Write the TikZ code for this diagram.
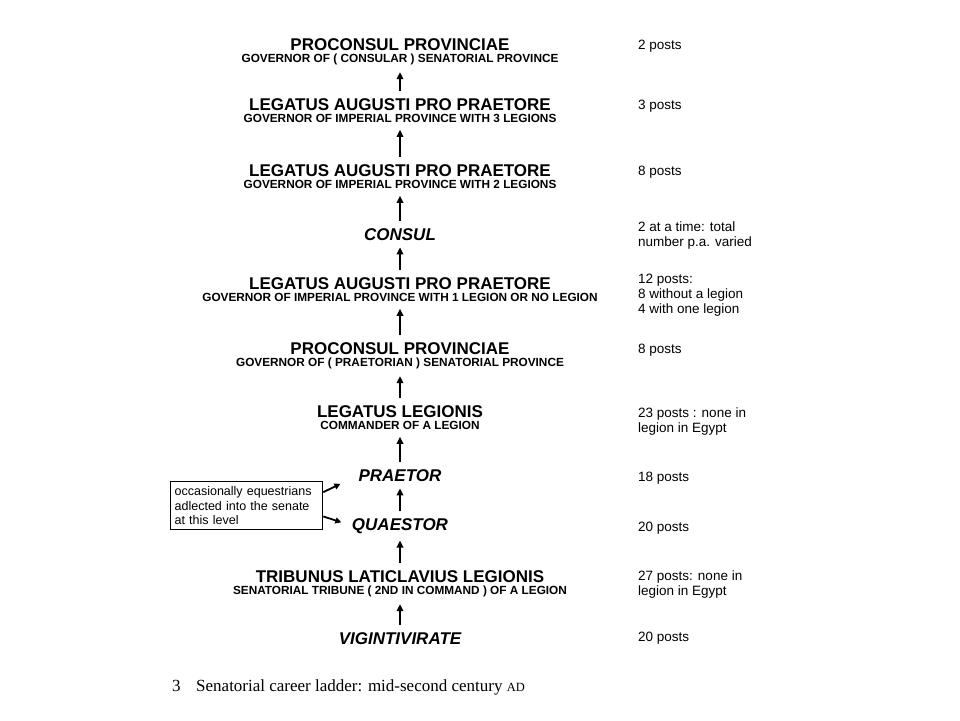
\documentclass[tikz,border=0pt]{standalone}
\usepackage{fontspec}
\setmainfont{Liberation Sans}
\newfontfamily\capfont{Liberation Serif}
\usetikzlibrary{arrows.meta}

\begin{document}
\begin{tikzpicture}[x=1pt, y=-1pt,
  ttl/.style={anchor=base, inner sep=0pt, font=\fontsize{17}{20}\selectfont\bfseries},
  itl/.style={ttl, font=\fontsize{17}{20}\selectfont\bfseries\itshape},
  sub/.style={anchor=base, inner sep=0pt, font=\fontsize{11.8}{13}\selectfont\bfseries},
  cnt/.style={anchor=north west, inner sep=0pt, align=left,
              font=\fontsize{13.5}{15}\selectfont},
  up/.style={-{Triangle[length=7pt, width=6.5pt]}, line width=2.2pt,
             shorten <=7pt, shorten >=7pt},
  side/.style={-{Triangle[length=6pt, width=6pt]}, line width=1.8pt}]
\fill[white] (0,0) rectangle (960,720);
\useasboundingbox (0,0) rectangle (960,720);

% 阶梯:从上到下各级职位
\node[ttl] (provc)   at (400,50)    {PROCONSUL PROVINCIAE};
\node[sub] (provc-s) at (400,62.5)  {GOVERNOR OF ( CONSULAR ) SENATORIAL PROVINCE};
\node[ttl] (lap3)    at (400,110)   {LEGATUS AUGUSTI PRO PRAETORE};
\node[sub] (lap3-s)  at (400,122.5) {GOVERNOR OF IMPERIAL PROVINCE WITH 3 LEGIONS};
\node[ttl] (lap2)    at (400,176)   {LEGATUS AUGUSTI PRO PRAETORE};
\node[sub] (lap2-s)  at (400,188.5) {GOVERNOR OF IMPERIAL PROVINCE WITH 2 LEGIONS};
\node[itl] (cos)     at (400,240)   {CONSUL};
\node[ttl] (lap1)    at (400,289)   {LEGATUS AUGUSTI PRO PRAETORE};
\node[sub] (lap1-s)  at (400,301.5) {GOVERNOR OF IMPERIAL PROVINCE WITH 1 LEGION OR NO LEGION};
\node[ttl] (provp)   at (400,354)   {PROCONSUL PROVINCIAE};
\node[sub] (provp-s) at (400,366.5) {GOVERNOR OF ( PRAETORIAN ) SENATORIAL PROVINCE};
\node[ttl] (leg)     at (400,417)   {LEGATUS LEGIONIS};
\node[sub] (leg-s)   at (400,429.5) {COMMANDER OF A LEGION};
\node[itl] (pr)      at (400,481)   {PRAETOR};
\node[itl] (q)       at (400,530)   {QUAESTOR};
\node[ttl] (trib)    at (400,582)   {TRIBUNUS LATICLAVIUS LEGIONIS};
\node[sub] (trib-s)  at (400,594.5) {SENATORIAL TRIBUNE ( 2ND IN COMMAND ) OF A LEGION};
\node[itl] (vig)     at (400,644)   {VIGINTIVIRATE};

\foreach \a/\b in {lap3/provc-s, lap2/lap3-s, cos/lap2-s, lap1/cos, provp/lap1-s,
                   leg/provp-s, pr/leg-s, q/pr, trib/q, vig/trib-s}{
  \draw[up] (\a.north) -- (\b.south);}

% 右列:职位数量
\node[cnt] (n-provc) at (638,40)  {2 posts};
\node[cnt] (n-lap3)  at (638,100) {3 posts};
\node[cnt] (n-lap2)  at (638,166) {8 posts};
\node[cnt] (n-cos)   at (638,222) {2 at a time: total\\number p.a. varied};
\node[cnt] (n-lap1)  at (638,274) {12 posts:\\8 without a legion\\4 with one legion};
\node[cnt] (n-provp) at (638,344) {8 posts};
\node[cnt] (n-leg)   at (638,408) {23 posts : none in\\legion in Egypt};
\node[cnt] (n-pr)    at (638,472) {18 posts};
\node[cnt] (n-q)     at (638,522) {20 posts};
\node[cnt] (n-trib)  at (638,571) {27 posts: none in\\legion in Egypt};
\node[cnt] (n-vig)   at (638,632) {20 posts};

% 左侧注释框
\node[draw, line width=1.3pt, anchor=north west, minimum width=152pt, minimum height=48pt,
      text width=144pt, inner xsep=4pt, align=left,
      font=\fontsize{12.5}{14.5}\selectfont] (note) at (170,481)
  {occasionally equestrians\\adlected into the senate\\at this level};
\draw[side, shorten >=20pt] (note.10) -- (pr.west);
\draw[side, shorten >=11pt] (note.-8) -- (q.west);

% 图注
\node[anchor=base west, inner sep=0pt, font=\capfont\fontsize{17}{20}\selectfont] (capn) at (172,691) {3};
\node[anchor=base west, inner sep=0pt, font=\capfont\fontsize{17}{20}\selectfont] (capt) at (196,691)
  {Senatorial career ladder: mid-second century {\fontsize{12.5}{14}\selectfont AD}};
\end{tikzpicture}
\end{document}
